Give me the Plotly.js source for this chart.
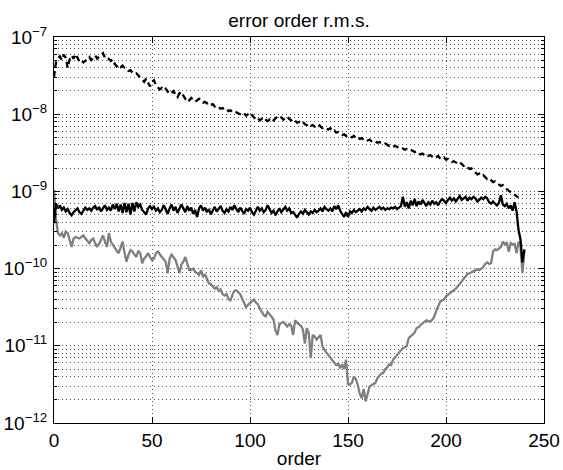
<!DOCTYPE html>
<html>
<head>
<meta charset="utf-8">
<script src="https://cdn.plot.ly/plotly-3.0.1.min.js"></script>
<style>
html,body{margin:0;padding:0;background:#fff;}
#chart{width:563px;height:470px;}
</style>
</head>
<body>
<div id="chart"></div>
<script>
// log10 of r.m.s. error, per order
const dashedLog10 = [
-7.52,-7.33,-7.28,-7.25,-7.30,-7.23,-7.27,-7.40,-7.29,-7.24,
-7.28,-7.22,-7.27,-7.32,-7.30,-7.33,-7.31,-7.29,-7.26,-7.30,
-7.27,-7.24,-7.28,-7.25,-7.23,-7.21,-7.27,-7.26,-7.28,-7.31,
-7.29,-7.35,-7.38,-7.36,-7.39,-7.37,-7.40,-7.41,-7.44,-7.43,
-7.46,-7.48,-7.47,-7.50,-7.52,-7.55,-7.58,-7.54,-7.60,-7.64,
-7.58,-7.56,-7.62,-7.65,-7.68,-7.66,-7.69,-7.67,-7.71,-7.74,
-7.72,-7.70,-7.75,-7.78,-7.73,-7.71,-7.76,-7.80,-7.78,-7.82,
-7.79,-7.81,-7.84,-7.82,-7.80,-7.83,-7.85,-7.84,-7.86,-7.85,
-7.88,-7.87,-7.90,-7.89,-7.91,-7.93,-7.92,-7.94,-7.93,-7.96,
-7.95,-7.97,-7.96,-7.98,-7.99,-8.00,-8.01,-7.99,-8.02,-8.00,
-7.98,-8.01,-8.04,-8.07,-8.05,-8.08,-8.06,-8.04,-8.07,-8.09,
-8.07,-8.10,-8.08,-8.06,-8.03,-8.05,-8.04,-8.07,-8.05,-8.03,
-8.06,-8.08,-8.06,-8.09,-8.11,-8.10,-8.12,-8.10,-8.13,-8.14,
-8.12,-8.15,-8.14,-8.16,-8.15,-8.13,-8.16,-8.18,-8.17,-8.19,
-8.20,-8.18,-8.22,-8.21,-8.24,-8.23,-8.25,-8.27,-8.26,-8.28,
-8.27,-8.29,-8.30,-8.28,-8.31,-8.30,-8.32,-8.31,-8.33,-8.32,
-8.34,-8.33,-8.35,-8.34,-8.36,-8.37,-8.36,-8.38,-8.39,-8.38,
-8.40,-8.41,-8.40,-8.42,-8.41,-8.43,-8.44,-8.43,-8.45,-8.46,
-8.45,-8.47,-8.46,-8.48,-8.49,-8.48,-8.50,-8.52,-8.51,-8.53,
-8.52,-8.54,-8.53,-8.55,-8.57,-8.56,-8.54,-8.57,-8.58,-8.56,
-8.59,-8.58,-8.60,-8.62,-8.61,-8.63,-8.64,-8.62,-8.65,-8.67,
-8.66,-8.68,-8.71,-8.70,-8.73,-8.75,-8.78,-8.77,-8.80,-8.79,
-8.82,-8.84,-8.83,-8.86,-8.88,-8.87,-8.89,-8.91,-8.93,-8.92,
-8.95,-8.97,-8.99,-9.01,-9.03,-9.05,-9.06,-9.08
];

const solidLog10 = [
-9.41,-9.16,-9.22,-9.18,-9.24,-9.21,-9.26,-9.23,-9.28,-9.31,
-9.27,-9.24,-9.22,-9.27,-9.29,-9.25,-9.21,-9.24,-9.22,-9.25,
-9.21,-9.19,-9.24,-9.20,-9.26,-9.22,-9.18,-9.24,-9.21,-9.25,
-9.17,-9.23,-9.16,-9.26,-9.17,-9.28,-9.15,-9.27,-9.16,-9.30,
-9.15,-9.26,-9.14,-9.20,-9.17,-9.24,-9.27,-9.30,-9.22,-9.19,
-9.23,-9.20,-9.25,-9.22,-9.27,-9.24,-9.18,-9.23,-9.29,-9.22,
-9.17,-9.25,-9.20,-9.28,-9.23,-9.17,-9.22,-9.27,-9.19,-9.25,
-9.21,-9.29,-9.24,-9.33,-9.22,-9.18,-9.25,-9.21,-9.27,-9.23,
-9.30,-9.24,-9.20,-9.26,-9.22,-9.19,-9.25,-9.28,-9.23,-9.26,
-9.20,-9.24,-9.18,-9.22,-9.27,-9.21,-9.26,-9.29,-9.23,-9.25,
-9.21,-9.27,-9.30,-9.24,-9.20,-9.25,-9.22,-9.27,-9.24,-9.18,
-9.23,-9.28,-9.25,-9.31,-9.26,-9.22,-9.27,-9.24,-9.20,-9.25,
-9.22,-9.28,-9.27,-9.30,-9.34,-9.29,-9.26,-9.29,-9.24,-9.27,
-9.30,-9.26,-9.28,-9.24,-9.27,-9.25,-9.22,-9.26,-9.20,-9.23,
-9.25,-9.22,-9.26,-9.19,-9.23,-9.18,-9.25,-9.29,-9.33,-9.27,
-9.33,-9.26,-9.28,-9.24,-9.27,-9.25,-9.23,-9.26,-9.22,-9.24,
-9.20,-9.23,-9.25,-9.21,-9.24,-9.22,-9.20,-9.23,-9.21,-9.24,
-9.22,-9.23,-9.21,-9.22,-9.20,-9.23,-9.21,-9.19,-9.07,-9.20,
-9.14,-9.22,-9.12,-9.18,-9.10,-9.19,-9.13,-9.17,-9.11,-9.16,
-9.19,-9.14,-9.17,-9.12,-9.16,-9.14,-9.18,-9.13,-9.10,-9.12,
-9.15,-9.11,-9.08,-9.12,-9.09,-9.13,-9.10,-9.06,-9.11,-9.09,
-9.07,-9.12,-9.08,-9.10,-9.07,-9.09,-9.13,-9.11,-9.08,-9.10,
-9.07,-9.09,-9.14,-9.16,-9.13,-9.16,-9.18,-9.15,-9.05,-9.17,
-9.19,-9.16,-9.22,-9.18,-9.25,-9.14,-9.26,-9.50,-9.62,-9.92,
-9.75
];

const grayLog10 = [
-8.98,-9.35,-9.54,-9.57,-9.54,-9.60,-9.52,-9.54,-9.63,-9.72,
-9.61,-9.59,-9.60,-9.61,-9.59,-9.57,-9.61,-9.64,-9.67,-9.63,
-9.61,-9.67,-9.72,-9.68,-9.63,-9.57,-9.65,-9.72,-9.54,-9.65,
-9.69,-9.74,-9.77,-9.80,-9.72,-9.65,-9.80,-9.91,-9.82,-9.76,
-9.78,-9.82,-9.85,-9.77,-9.80,-9.93,-9.87,-9.84,-9.80,-9.85,
-9.89,-9.87,-9.80,-9.78,-9.82,-9.85,-9.88,-9.91,-10.06,-9.87,
-9.82,-9.85,-9.89,-9.97,-10.06,-9.95,-9.91,-9.85,-9.95,-10.02,
-10.02,-10.00,-10.04,-10.06,-10.08,-10.02,-10.11,-10.07,-10.13,-10.19,
-10.20,-10.23,-10.26,-10.24,-10.29,-10.27,-10.33,-10.35,-10.33,-10.39,
-10.42,-10.34,-10.29,-10.28,-10.31,-10.33,-10.39,-10.44,-10.50,-10.47,
-10.45,-10.42,-10.40,-10.44,-10.46,-10.52,-10.57,-10.60,-10.62,-10.56,
-10.59,-10.62,-10.66,-10.80,-10.86,-10.72,-10.70,-10.69,-10.72,-10.75,
-10.72,-10.74,-10.86,-10.67,-10.70,-10.72,-10.74,-10.79,-10.97,-10.77,
-10.84,-11.16,-10.86,-10.88,-10.92,-10.89,-10.86,-11.01,-11.06,-11.09,
-11.12,-11.15,-11.18,-11.22,-11.25,-11.23,-11.29,-11.24,-11.30,-11.18,
-11.49,-11.50,-11.48,-11.40,-11.43,-11.51,-11.62,-11.68,-11.56,-11.72,
-11.62,-11.53,-11.51,-11.50,-11.48,-11.42,-11.39,-11.36,-11.35,-11.30,
-11.28,-11.24,-11.25,-11.18,-11.15,-11.12,-11.08,-11.06,-11.03,-11.02,
-11.00,-10.90,-10.88,-10.86,-10.83,-10.77,-10.76,-10.73,-10.71,-10.69,
-10.67,-10.68,-10.69,-10.66,-10.62,-10.55,-10.48,-10.43,-10.41,-10.40,
-10.36,-10.34,-10.32,-10.31,-10.29,-10.26,-10.23,-10.20,-10.17,-10.14,
-10.10,-10.07,-10.06,-10.05,-10.04,-10.03,-10.01,-10.02,-10.00,-9.98,
-9.94,-9.92,-9.94,-9.93,-9.78,-9.75,-9.76,-9.74,-9.72,-9.65,
-9.69,-9.66,-9.78,-9.67,-9.69,-9.68,-9.80,-9.65,-9.72,-10.06,
-9.76
];

const xTickVals = [0, 50, 100, 150, 200, 250];
const yTickVals = [1e-12, 1e-11, 1e-10, 1e-9, 1e-8, 1e-7];
const yTickText = ['10<sup>\u221212</sup>','10<sup>\u221211</sup>','10<sup>\u221210</sup>','10<sup>\u22129</sup>','10<sup>\u22128</sup>','10<sup>\u22127</sup>'];
const titleText = 'error order r.m.s.';
const xTitleText = 'order';

const orders = n => Array.from({length: n}, (_, i) => i);
const fromLog = arr => arr.map(v => Math.pow(10, v));

const minorVals = [];
yTickVals.slice(0, -1).forEach(d => { for (let k = 2; k <= 9; k++) minorVals.push(d * k); });

const FONT = '"Liberation Sans", Arial, Helvetica, sans-serif';

const traces = [
  {x: orders(grayLog10.length), y: fromLog(grayLog10), type: 'scatter', mode: 'lines',
   line: {color: '#7f7f7f', width: 2.3}, hoverinfo: 'skip'},
  {x: orders(solidLog10.length), y: fromLog(solidLog10), type: 'scatter', mode: 'lines',
   line: {color: '#000000', width: 2.3}, hoverinfo: 'skip'},
  {x: orders(dashedLog10.length), y: fromLog(dashedLog10), type: 'scatter', mode: 'lines',
   line: {color: '#000000', width: 2.3, dash: '6px,4px'}, hoverinfo: 'skip'}
];

const gridDash = '1px,3px';
const gridColor = '#555555';

const layout = {
  width: 563, height: 470,
  margin: {l: 54, r: 19, t: 37, b: 47, pad: 0},
  paper_bgcolor: '#ffffff', plot_bgcolor: '#ffffff',
  showlegend: false,
  font: {family: FONT, size: 19, color: '#000'},
  title: {text: titleText, font: {family: FONT, size: 19, color: '#000'},
          x: 0.5, xref: 'paper', xanchor: 'center', y: 1 - 27/470, yref: 'container', yanchor: 'bottom'},
  xaxis: {
    range: [0, 250], tickvals: xTickVals, ticktext: xTickVals.map(String),
    ticks: 'inside', ticklen: 6, tickwidth: 1, tickcolor: '#000',
    showline: true, linecolor: '#000', linewidth: 1, mirror: 'allticks',
    showgrid: true, gridcolor: gridColor, gridwidth: 1, griddash: gridDash,
    zeroline: false, automargin: false,
    tickfont: {family: FONT, size: 19, color: '#000'},
    title: {text: xTitleText, font: {family: FONT, size: 19, color: '#000'}, standoff: 1}
  },
  yaxis: {
    type: 'log', range: [-12, -7], tickvals: yTickVals, ticktext: yTickText,
    ticks: 'inside', ticklen: 6, tickwidth: 1, tickcolor: '#000',
    showline: true, linecolor: '#000', linewidth: 1, mirror: 'allticks',
    showgrid: true, gridcolor: gridColor, gridwidth: 1, griddash: gridDash,
    zeroline: false, automargin: false, ticklabelstandoff: 2,
    tickfont: {family: FONT, size: 19, color: '#000'},
    minor: {tickvals: minorVals, ticks: 'inside', ticklen: 3, tickcolor: '#000',
            showgrid: true, gridcolor: gridColor, gridwidth: 1, griddash: gridDash}
  }
};

Plotly.newPlot('chart', traces, layout, {displayModeBar: false, staticPlot: true});
</script>
</body>
</html>
